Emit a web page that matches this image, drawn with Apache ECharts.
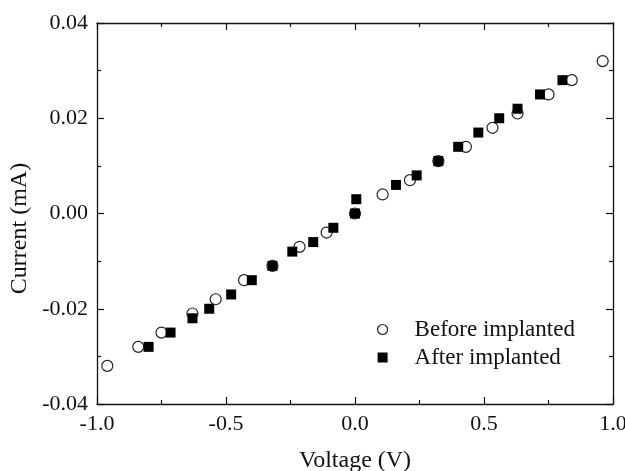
<!DOCTYPE html>
<html>
<head>
<meta charset="utf-8">
<script src="https://cdn.jsdelivr.net/npm/echarts@6/dist/echarts.min.js"></script>
<style>html,body{margin:0;padding:0;background:#fff}#c{width:625px;height:471px}</style>
</head>
<body>
<div id="c"></div>
<script>
const seriesNames = ['Before implanted', 'After implanted'];
const beforeV = [-0.96, -0.84, -0.75, -0.63, -0.54, -0.43, -0.32, -0.215, -0.11, 0.0, 0.107, 0.213, 0.323, 0.43, 0.533, 0.63, 0.75, 0.84, 0.96];
const beforeI = [-0.032, -0.028, -0.025, -0.021, -0.018, -0.014, -0.011, -0.007, -0.004, 0.0, 0.004, 0.007, 0.011, 0.014, 0.018, 0.021, 0.025, 0.028, 0.032];
const afterV = [-0.80, -0.715, -0.63, -0.565, -0.48, -0.40, -0.32, -0.243, -0.162, -0.084, 0.0, 0.005, 0.159, 0.239, 0.323, 0.40, 0.478, 0.559, 0.63, 0.717, 0.804];
const afterI = [-0.028, -0.025, -0.022, -0.020, -0.017, -0.014, -0.011, -0.008, -0.006, -0.003, 0.0, 0.003, 0.006, 0.008, 0.011, 0.014, 0.017, 0.020, 0.022, 0.025, 0.028];
const xTickLabels = ['-1.0', '-0.5', '0.0', '0.5', '1.0'];
const yTickLabels = ['-0.04', '-0.02', '0.00', '0.02', '0.04'];

const FONT = 'Liberation Serif';
const axisColor = '#111';
const chart = echarts.init(document.getElementById('c'));

function xLabel(v) {
  const i = Math.round((v + 1) / 0.5);
  return xTickLabels[i] !== undefined ? xTickLabels[i] : '';
}
function yLabel(v) {
  const i = Math.round((v + 0.04) / 0.02);
  return yTickLabels[i] !== undefined ? yTickLabels[i] : '';
}

const baseAxis = {
  axisLine: { show: true, onZero: false, lineStyle: { color: axisColor, width: 1.3 } },
  axisTick: { show: true, inside: true, length: 7, lineStyle: { color: axisColor, width: 1.2 } },
  minorTick: { show: true, splitNumber: 2, length: 4, lineStyle: { color: axisColor, width: 1.2 } },
  splitLine: { show: false },
  minorSplitLine: { show: false }
};

chart.setOption({
  animation: false,
  backgroundColor: '#fff',
  grid: { left: 97, right: 12, top: 23, bottom: 67, containLabel: false, outerBoundsMode: 'none' },
  legend: {
    orient: 'vertical',
    left: 372,
    top: 313,
    itemWidth: 10,
    itemHeight: 10,
    itemGap: 5,
    data: [
      { name: seriesNames[0], icon: 'circle', itemStyle: { color: '#fff', borderColor: '#222', borderWidth: 1.2, opacity: 1 } },
      { name: seriesNames[1], icon: 'rect', itemStyle: { color: '#000', borderWidth: 0, opacity: 1 } }
    ],
    textStyle: { fontFamily: FONT, fontSize: 23, color: '#111', padding: [0, 0, 0, 22] }
  },
  xAxis: [
    Object.assign({}, baseAxis, {
      type: 'value', min: -1, max: 1, interval: 0.5, position: 'bottom',
      name: 'Voltage (V)', nameLocation: 'middle', nameGap: 45,
      nameTextStyle: { fontFamily: FONT, fontSize: 24, color: '#111' },
      axisLabel: { show: true, margin: 9, fontFamily: FONT, fontSize: 22, color: '#111', formatter: xLabel }
    }),
    Object.assign({}, baseAxis, {
      type: 'value', min: -1, max: 1, interval: 0.5, position: 'top',
      axisLabel: { show: false }
    })
  ],
  yAxis: [
    Object.assign({}, baseAxis, {
      type: 'value', min: -0.04, max: 0.04, interval: 0.02, position: 'left',
      name: 'Current (mA)', nameLocation: 'middle', nameGap: 63,
      nameTextStyle: { fontFamily: FONT, fontSize: 24, color: '#111', padding: [0, 30, 0, 0] },
      axisLabel: { show: true, margin: 9, fontFamily: FONT, fontSize: 22, color: '#111', formatter: yLabel }
    }),
    Object.assign({}, baseAxis, {
      type: 'value', min: -0.04, max: 0.04, interval: 0.02, position: 'right',
      axisLabel: { show: false }
    })
  ],
  series: [
    {
      name: seriesNames[0], type: 'scatter', xAxisIndex: 0, yAxisIndex: 0,
      symbol: 'circle', symbolSize: 11, z: 2,
      itemStyle: { color: 'rgba(255,255,255,0)', borderColor: '#222', borderWidth: 1.2, opacity: 1 },
      data: beforeV.map((v, i) => [v, beforeI[i]])
    },
    {
      name: seriesNames[1], type: 'scatter', xAxisIndex: 0, yAxisIndex: 0,
      symbol: 'rect', symbolSize: 10, z: 3,
      itemStyle: { color: '#000', opacity: 1 },
      data: afterV.map((v, i) => [v, afterI[i]])
    }
  ]
});
</script>
</body>
</html>
